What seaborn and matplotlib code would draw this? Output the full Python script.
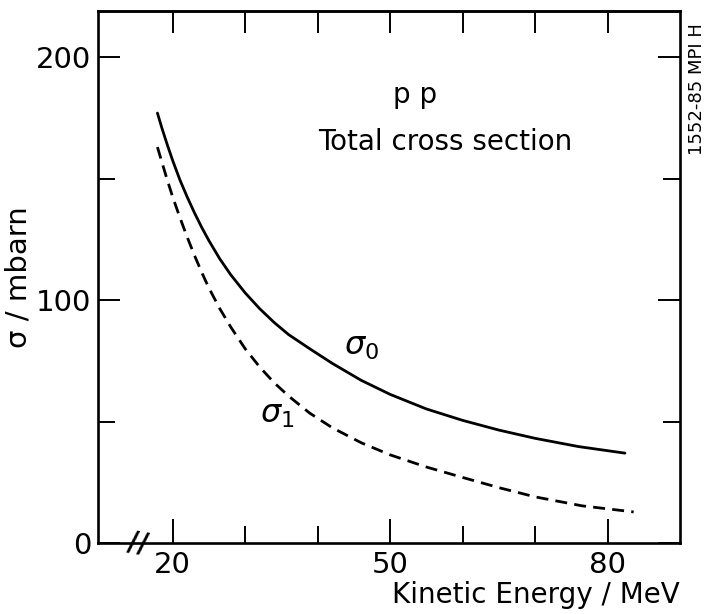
import numpy as np
import pandas as pd
import matplotlib
matplotlib.use("Agg")
import matplotlib.pyplot as plt
import seaborn as sns

# values
energy_s0 = [17.9, 18.5, 19.2, 20.0, 21.0, 22.0, 23.0, 24.0, 25.0, 26.5, 28.0,
             30.0, 32.0, 34.0, 36.0, 38.9, 42.0, 46.0, 50.0, 55.0, 60.0, 65.0,
             70.0, 76.0, 82.4]
sigma_s0 = [177, 171, 164.5, 157.5, 149.5, 142.5, 136, 130, 124.5, 117, 110.5,
            103, 96.5, 90.8, 85.8, 80, 74, 67, 61.2, 55.2, 50.5, 46.5,
            43.1, 39.7, 37.0]

energy_s1 = [17.9, 18.5, 19.2, 20.0, 21.0, 22.0, 23.0, 24.0, 25.0, 26.5, 28.0,
             30.0, 32.0, 34.0, 36.0, 38.9, 42.0, 46.0, 50.0, 55.0, 60.0, 65.0,
             70.0, 76.5, 83.6]
sigma_s1 = [163, 157, 150, 142.5, 134, 126, 118.5, 111.5, 105, 96.5, 89,
            80, 72.5, 66, 60.5, 53.5, 47.5, 41.3, 36.3, 31.3, 27.0, 22.8,
            19.0, 15.3, 12.8]

x_major = [20, 50, 80]
x_minor = [30, 40, 60, 70]
y_major = [0, 100, 200]
y_minor = [50, 150]

df = pd.concat([
    pd.DataFrame({"E": energy_s0, "sigma": sigma_s0, "curve": "s0"}),
    pd.DataFrame({"E": energy_s1, "sigma": sigma_s1, "curve": "s1"}),
])

sns.set_theme(style="ticks")
plt.rcParams["font.family"] = ["DejaVu Sans"]
plt.rcParams["mathtext.fontset"] = "dejavusans"
plt.rcParams["text.color"] = "black"
plt.rcParams["axes.labelcolor"] = "black"

fig = plt.figure(figsize=(7.08, 6.14), dpi=100)
ax = fig.add_axes([0.1384, 0.1156, 0.8221, 0.8664])

sns.lineplot(data=df, x="E", y="sigma", style="curve",
             dashes={"s0": "", "s1": (4.3, 2.6)},
             color="black", linewidth=2.0, legend=False, ax=ax)

ax.set_xlim(9.7, 90)
ax.set_ylim(0, 219)

for sp in ax.spines.values():
    sp.set_linewidth(1.9)
    sp.set_color("black")

ax.set_xticks(x_major)
ax.set_xticks(x_minor, minor=True)
ax.set_yticks(y_major)
ax.set_yticks(y_minor, minor=True)
ax.tick_params(axis="both", which="both", direction="in", width=1.4,
               colors="black", labelsize=21)
ax.tick_params(axis="x", which="major", length=17, pad=6, top=False)
ax.tick_params(axis="x", which="minor", length=12, top=False)
ax.tick_params(axis="y", which="major", length=16, pad=5, right=True)
ax.tick_params(axis="y", which="minor", length=12, right=True)

# top axis carries equal ticks at every 10 MeV
top = ax.secondary_xaxis("top")
top.set_xticks(x_major + x_minor)
top.set_xticklabels([])
top.tick_params(direction="in", length=16, width=1.4, colors="black")
top.spines["top"].set_linewidth(1.9)

ax.set_xlabel("Kinetic Energy / MeV", fontsize=20, loc="right", labelpad=1)
ax.set_ylabel("σ / mbarn", fontsize=21)
ax.yaxis.set_label_coords(-0.112, 0.5)

ax.text(53.5, 181, "p p", fontsize=20, ha="center", va="baseline")
ax.text(57.6, 161.7, "Total cross section", fontsize=20, ha="center",
        va="baseline")
ax.text(43.7, 77.4, r"$\sigma_0$", fontsize=23, ha="left", va="baseline")
ax.text(32.0, 49.4, r"$\sigma_1$", fontsize=23, ha="left", va="baseline")

# axis break mark
ax.text(15.2, 0, "//", fontsize=20, fontweight="bold", ha="center",
        va="center", rotation=-10, clip_on=False)

fig.text(697 / 708, 1 - 89 / 614, "1552-85 MPI H", fontsize=13,
         rotation=90, ha="center", va="center")

fig.savefig("out.png", dpi=100)
